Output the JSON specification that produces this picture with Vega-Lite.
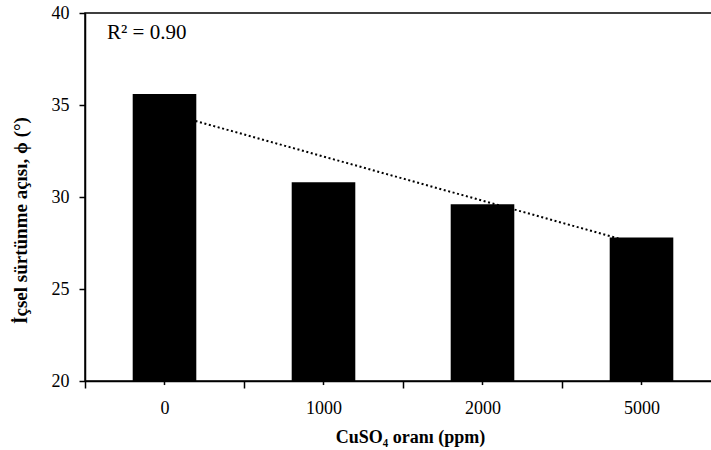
{
  "$schema": "https://vega.github.io/schema/vega-lite/v6.json",
  "autosize": "none",
  "padding": {"left": 85, "top": 13, "right": 0, "bottom": 69},
  "width": 636,
  "height": 368,
  "background": "white",
  "config": {
    "font": "Liberation Serif",
    "view": {"stroke": "black", "strokeWidth": 1.5},
    "axis": {"labelColor": "black", "tickColor": "black", "domainColor": "black", "titleColor": "black", "labelFontSize": 18, "tickWidth": 1.5, "domainWidth": 1.5, "grid": false}
  },
  "datasets": {
    "bars": [
      {"oran": "0", "aci": 35.6},
      {"oran": "1000", "aci": 30.8},
      {"oran": "2000", "aci": 29.6},
      {"oran": "5000", "aci": 27.8}
    ],
    "trend": [
      {"oran": "0", "fit": 34.6},
      {"oran": "5000", "fit": 27.4}
    ],
    "note": [
      {"oran": "0", "y": 38.9, "label": "R² = 0.90"}
    ]
  },
  "encoding": {
    "x": {
      "field": "oran", "type": "nominal",
      "scale": {"domain": ["0", "1000", "2000", "5000"], "paddingInner": 0, "paddingOuter": 0},
      "axis": {
        "labelAngle": 0, "labelPadding": 11, "tickBand": "extent", "tickSize": 7,
        "title": "CuSO₄ oranı (ppm)", "titleFontSize": 18, "titleFontWeight": "bold",
        "titleX": 325, "titleY": 56, "titleBaseline": "middle", "titleAlign": "center"
      }
    }
  },
  "layer": [
    {
      "data": {"name": "trend"},
      "mark": {"type": "line", "color": "black", "strokeWidth": 2, "strokeDash": [2, 2.6]},
      "encoding": {
        "y": {
          "field": "fit", "type": "quantitative",
          "scale": {"domain": [20, 40], "nice": false, "zero": false},
          "axis": {
            "values": [20, 25, 30, 35, 40],
            "labelPadding": 10, "tickSize": 6,
            "title": "İçsel sürtünme  açısı, ϕ (°)", "titleFontSize": 19, "titleFontWeight": "bold",
            "titleAngle": -90, "titleX": -65, "titleY": 207, "titleAlign": "center", "titleBaseline": "middle"
          }
        }
      }
    },
    {
      "data": {"name": "bars"},
      "mark": {"type": "bar", "color": "black", "width": {"band": 0.4}},
      "encoding": {
        "y": {"field": "aci", "type": "quantitative"},
        "y2": {"datum": 20}
      }
    },
    {
      "data": {"name": "bars"},
      "mark": {"type": "rule", "color": "black", "strokeWidth": 1.5, "clip": false},
      "encoding": {
        "y": {"datum": 20},
        "y2": {"datum": 19.78}
      }
    },
    {
      "data": {"name": "note"},
      "mark": {"type": "text", "align": "left", "baseline": "middle", "fontSize": 21, "color": "black", "dx": 22},
      "encoding": {
        "x": {"field": "oran", "type": "nominal", "bandPosition": 0},
        "y": {"field": "y", "type": "quantitative"},
        "text": {"field": "label"}
      }
    }
  ]
}
